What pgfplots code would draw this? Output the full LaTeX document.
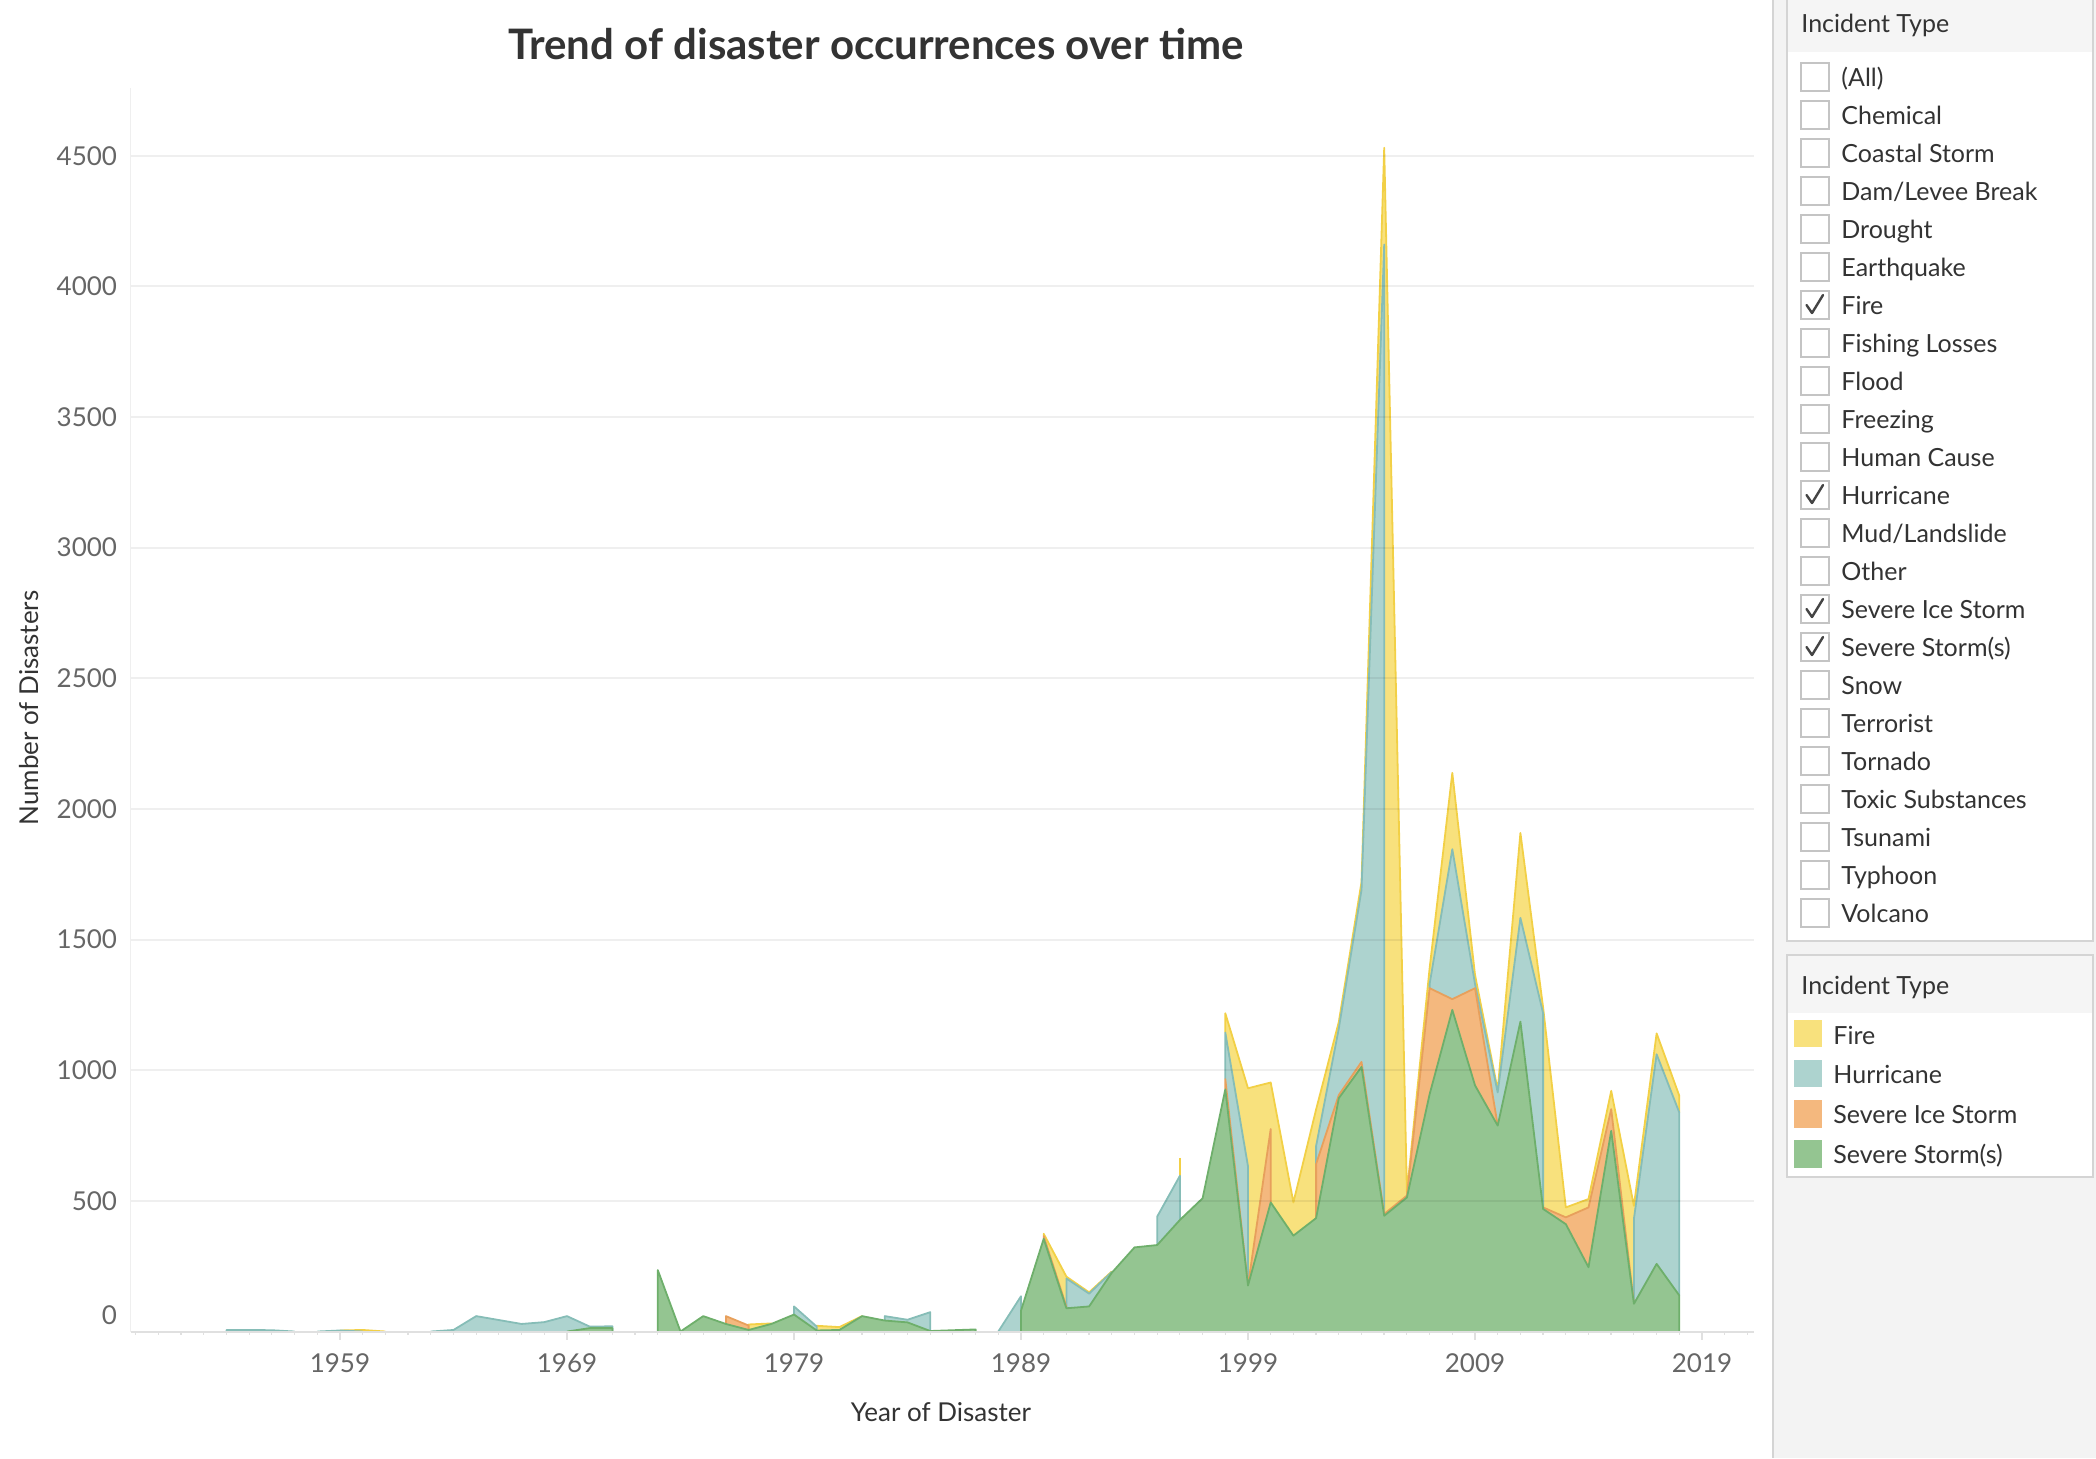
\documentclass[border=0pt]{standalone}
\usepackage{fontspec}
\setmainfont{Lato}
\usepackage{pgfplots}
\pgfplotsset{compat=1.18}
\definecolor{fireF}{HTML}{F8E17D}
\definecolor{fireL}{HTML}{F2D046}
\definecolor{hurF}{HTML}{ADD3CF}
\definecolor{hurL}{HTML}{86BDB7}
\definecolor{iceF}{HTML}{F4B87E}
\definecolor{iceL}{HTML}{E7A05C}
\definecolor{stoF}{HTML}{94C591}
\definecolor{stoL}{HTML}{6EAF6B}
\definecolor{gridc}{HTML}{EFEFEF}
\definecolor{tickc}{HTML}{E0E0E0}
\definecolor{labc}{HTML}{666666}
\definecolor{txtc}{HTML}{333333}
\definecolor{panelbg}{HTML}{F3F3F3}
\definecolor{boxb}{HTML}{D4D4D4}
\definecolor{headbg}{HTML}{F5F5F5}
\definecolor{chkb}{HTML}{C4C4C4}
\definecolor{chkm}{HTML}{444444}

\newcommand{\seg}[3]{%
  \addplot[fill=#1, draw=none, forget plot] coordinates {#3} \closedcycle;
  \addplot[draw=#2, line width=0.9pt, line join=round, forget plot] coordinates {#3};
}

\begin{document}
\begin{tikzpicture}
\path[use as bounding box] (0,0) rectangle (1048pt,-729pt);
% right panel background
\begin{scope}[x=0.5pt,y=-0.5pt]
\fill[panelbg] (1773,0) rectangle (2096,1458);
\draw[boxb, line width=1pt] (1773,0) -- (1773,1458);
\end{scope}
\begin{axis}[
  at={(65.35pt,-665.75pt)}, anchor=south west,
  scale only axis, width=811.75pt, height=621.75pt,
  xmin=1949.78, xmax=2021.3, ymin=0, ymax=4759,
  axis on top,
  axis x line*=bottom, axis y line*=left,
  x axis line style={draw=tickc, line width=1pt, -},
  y axis line style={draw=gridc, line width=0.5pt, -},
  xtick={1959,1969,...,2019},
  minor xtick={1950,...,2021},
  ytick={500,1000,...,4500},
  extra y ticks={0},
  extra y tick style={grid=none, yticklabel style={yshift=8.25pt}},
  ymajorgrids, major grid style={draw=black, draw opacity=0.063, line width=1pt},
  tick align=outside,
  major tick length=4pt, minor tick length=1.5pt,
  xtick style={draw=tickc, line width=0.6pt},
  ytick style={draw=none},
  tick label style={font=\fontsize{13}{15.5}\selectfont, text=labc,
    /pgf/number format/1000 sep={}, /pgf/number format/assume math mode=true},
  yticklabel style={anchor=east, inner sep=0pt, xshift=-2.65pt},
  xticklabel style={anchor=center, inner sep=0pt, yshift=-12pt},
  title={Trend of disaster occurrences over time},
  title style={at={(axis description cs:0.4591,1.02332)}, anchor=base, yshift=-6pt,
    font=\fontsize{21}{25}\selectfont\bfseries, text=txtc},
  xlabel={Year of Disaster},
  xlabel style={at={(axis description cs:0.4991,-0.07197)}, anchor=base,
    font=\fontsize{13}{15}\selectfont, text=txtc},
  ylabel={Number of Disasters},
  ylabel style={at={(axis description cs:-0.06264,0.5014)}, anchor=center, rotate=0,
    font=\fontsize{13}{15}\selectfont, text=txtc},
]
% Fire (top of stack)
\seg{fireF}{fireL}{(1959,4)(1960,6)(1961,0)}
\seg{fireF}{fireL}{(1977,23)(1977,27)(1978,31)(1978,29)}
\seg{fireF}{fireL}{(1980,19)(1980,22)(1981,17)(1982,59)}
\seg{fireF}{fireL}{(1990,365)(1990,374)(1991,210)(1992,150)(1993,230)}
\seg{fireF}{fireL}{(1996,596)(1996,666)}
\seg{fireF}{fireL}{(1998,1144)(1998,1218)(1999,931)(2000,953)(2001,494)(2002,850)(2003,1185)(2004,1720)(2005,4530)(2006,532)(2007,1390)(2008,2138)(2009,1365)(2010,925)(2011,1908)(2012,1240)(2013,475)(2014,507)(2015,921)(2016,481)(2017,1141)(2018,902)(2018,838)}
% Hurricane
\seg{hurF}{hurL}{(1954,0)(1954,6)(1955,6)(1956,5)(1957,0)}
\seg{hurF}{hurL}{(1958,0)(1959,4)(1960,0)}
\seg{hurF}{hurL}{(1963,0)(1964,6)(1965,59)(1966,44)(1967,29)(1968,36)(1969,59)(1970,19)(1971,20)(1971,0)}
\seg{hurF}{hurL}{(1979,65)(1979,96)(1980,19)(1980,4)}
\seg{hurF}{hurL}{(1983,42)(1983,59)(1984,45)(1985,74)(1985,0)}
\seg{hurF}{hurL}{(1988,0)(1989,135)(1989,80)}
\seg{hurF}{hurL}{(1991,95)(1991,203)(1992,145)(1993,228)}
\seg{hurF}{hurL}{(1995,331)(1995,440)(1996,596)(1996,427)}
\seg{hurF}{hurL}{(1998,966)(1998,1144)(1999,632)(1999,176)}
\seg{hurF}{hurL}{(2002,641)(2002,710)(2003,1160)(2004,1690)(2005,4160)(2005,450)}
\seg{hurF}{hurL}{(2007,1314)(2007,1330)(2008,1846)(2009,1330)(2010,915)(2011,1583)(2012,1218)(2012,475)}
\seg{hurF}{hurL}{(2016,106)(2016,431)(2017,1061)(2018,838)(2018,138)}
% Severe Ice Storm
\seg{iceF}{iceL}{(1976,29)(1976,59)(1977,23)(1977,6)}
\seg{iceF}{iceL}{(1990,355)(1990,365)(1991,95)(1991,89)}
\seg{iceF}{iceL}{(1998,927)(1998,966)(1999,176)(2000,775)(2000,494)}
\seg{iceF}{iceL}{(2002,434)(2002,641)(2003,905)(2004,1032)(2005,450)(2006,520)(2007,1314)(2008,1272)(2009,1314)(2010,788)}
\seg{iceF}{iceL}{(2012,469)(2012,475)(2013,437)(2014,475)(2015,851)(2016,106)}
% Severe Storm(s) (bottom of stack)
\seg{stoF}{stoL}{(1969,0)(1970,13)(1971,13)(1971,0)}
\seg{stoF}{stoL}{(1973,0)(1973,235)(1974,0)(1975,59)(1976,29)(1977,6)(1978,29)(1979,65)(1980,4)(1981,6)(1982,59)(1983,42)(1984,35)(1985,2)(1986,5)(1987,8)(1987,0)}
\seg{stoF}{stoL}{(1989,0)(1989,80)(1990,355)(1991,89)(1992,96)(1993,225)(1994,322)(1995,331)(1996,427)(1997,510)(1998,927)(1999,176)(2000,494)(2001,367)(2002,434)(2003,893)(2004,1013)(2005,443)(2006,513)(2007,908)(2008,1231)(2009,942)(2010,788)(2011,1186)(2012,469)(2013,411)(2014,246)(2015,768)(2016,106)(2017,259)(2018,138)(2018,0)}
\end{axis}
% filter and legend panel
\begin{scope}[x=0.5pt,y=-0.5pt]
\filldraw[fill=white, draw=boxb, line width=1pt] (1787,-5) rectangle (2093,941);
\fill[headbg] (1788,0) rectangle (2092,52);
\node[anchor=base west, inner sep=0pt, font=\fontsize{12.5}{15}\selectfont, text=txtc] at (1801,32) {Incident Type};
\foreach \t [count=\i from 0] in {{(All)},Chemical,Coastal Storm,Dam/Levee Break,Drought,Earthquake,Fire,Fishing Losses,Flood,Freezing,Human Cause,Hurricane,Mud/Landslide,Other,Severe Ice Storm,{Severe Storm(s)},Snow,Terrorist,Tornado,Toxic Substances,Tsunami,Typhoon,Volcano}{
  \filldraw[fill=white, draw=chkb, line width=0.75pt] (1801,{63+38*\i}) rectangle (1829,{91+38*\i});
  \node[anchor=base west, inner sep=0pt, font=\fontsize{12.5}{15}\selectfont, text=txtc] at (1841,{86+38*\i}) {\t};
}
\foreach \i in {6,11,14,15}{
  \draw[chkm, line width=1.2pt, line cap=round, line join=round] (1806.5,{77+38*\i}) -- (1812,{85+38*\i}) -- (1823,{67+38*\i});
}
\filldraw[fill=white, draw=boxb, line width=1pt] (1787,955) rectangle (2093,1177);
\fill[headbg] (1788,956) rectangle (2092,1013);
\node[anchor=base west, inner sep=0pt, font=\fontsize{12.5}{15}\selectfont, text=txtc] at (1801,994) {Incident Type};
\fill[fireF] (1794,1020) rectangle (1822,1047);
\fill[hurF] (1794,1060) rectangle (1822,1087);
\fill[iceF] (1794,1100) rectangle (1822,1128);
\fill[stoF] (1794,1140) rectangle (1822,1168);
\node[anchor=base west, inner sep=0pt, font=\fontsize{12.5}{15}\selectfont, text=txtc] at (1833,1044) {Fire};
\node[anchor=base west, inner sep=0pt, font=\fontsize{12.5}{15}\selectfont, text=txtc] at (1833,1083) {Hurricane};
\node[anchor=base west, inner sep=0pt, font=\fontsize{12.5}{15}\selectfont, text=txtc] at (1833,1123) {Severe Ice Storm};
\node[anchor=base west, inner sep=0pt, font=\fontsize{12.5}{15}\selectfont, text=txtc] at (1833,1163) {Severe Storm(s)};
\end{scope}
\end{tikzpicture}
\end{document}
